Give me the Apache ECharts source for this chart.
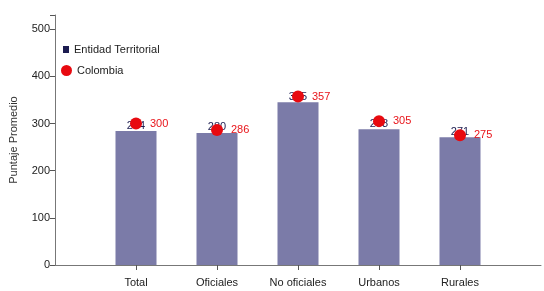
<!DOCTYPE html>
<html>
<head>
<meta charset="utf-8">
<script src="https://cdn.jsdelivr.net/npm/echarts@6/dist/echarts.min.js"></script>
<style>
  html, body { margin: 0; padding: 0; background: #fff; }
  #chart { width: 544px; height: 291px; }
</style>
</head>
<body>
<div id="chart"></div>
<script>
// categorias (vacias a los lados para dejar el espacio del eje)
const categories = ['', 'Total', 'Oficiales', 'No oficiales', 'Urbanos', 'Rurales', ''];
const entidadValues = ['-', 284, 280, 345, 288, 271, '-'];
const colombiaValues = ['-', 300, 286, 357, 305, 275, '-'];
const yTicks = [0, 100, 200, 300, 400, 500];

const font = "'Liberation Sans Narrow', 'Liberation Sans', sans-serif";

const chart = echarts.init(document.getElementById('chart'));

const options = {
  animation: false,
  textStyle: { fontFamily: font },
  grid: { left: 53, right: 0, top: 15, bottom: 26 },
  legend: [
    {
      orient: 'vertical',
      left: 58,
      top: 39,
      itemWidth: 6,
      itemHeight: 7,
      textStyle: { fontFamily: font, fontSize: 11, color: '#222' },
      data: [{ name: 'Entidad Territorial', icon: 'rect', itemStyle: { color: '#1c1c50' } }]
    },
    {
      orient: 'vertical',
      left: 56,
      top: 60,
      itemWidth: 11,
      itemHeight: 11,
      textStyle: { fontFamily: font, fontSize: 11, color: '#222' },
      data: [{ name: 'Colombia', icon: 'circle' }]
    }
  ],
  xAxis: {
    type: 'category',
    data: categories,
    boundaryGap: false,
    axisLine: { lineStyle: { color: '#777', width: 1 } },
    axisTick: {
      length: 5,
      interval: (i, v) => v !== '',
      lineStyle: { color: '#555' }
    },
    axisLabel: {
      interval: 0,
      margin: 12,
      fontFamily: font,
      fontSize: 11,
      color: '#222'
    },
    splitLine: { show: false }
  },
  yAxis: {
    type: 'value',
    min: yTicks[0],
    max: 530,
    interval: 100,
    name: 'Puntaje Promedio',
    nameLocation: 'middle',
    nameGap: 36,
    nameTextStyle: { fontFamily: font, fontSize: 11, color: '#333' },
    axisLine: { show: true, lineStyle: { color: '#777' } },
    axisTick: { show: true, length: 5, lineStyle: { color: '#555' } },
    axisLabel: {
      fontFamily: font,
      fontSize: 11,
      color: '#222',
      margin: 5,
      formatter: v => (yTicks.includes(v) ? v : '')
    },
    splitLine: { show: false }
  },
  series: [
    {
      name: 'Entidad Territorial',
      type: 'bar',
      data: entidadValues,
      barWidth: 41,
      itemStyle: { color: '#7b7ba8' },
      label: {
        show: true,
        position: 'top',
        distance: 0,
        fontFamily: font,
        fontSize: 11,
        color: '#1c1c50'
      },
      z: 2
    },
    {
      name: 'Colombia',
      type: 'scatter',
      data: colombiaValues,
      symbol: 'circle',
      symbolSize: 12,
      itemStyle: { color: '#e80a10', opacity: 1 },
      label: {
        show: true,
        position: 'right',
        distance: 8,
        fontFamily: font,
        fontSize: 11,
        color: '#e8141a'
      },
      z: 3
    }
  ]
};

chart.setOption(options);
</script>
</body>
</html>
